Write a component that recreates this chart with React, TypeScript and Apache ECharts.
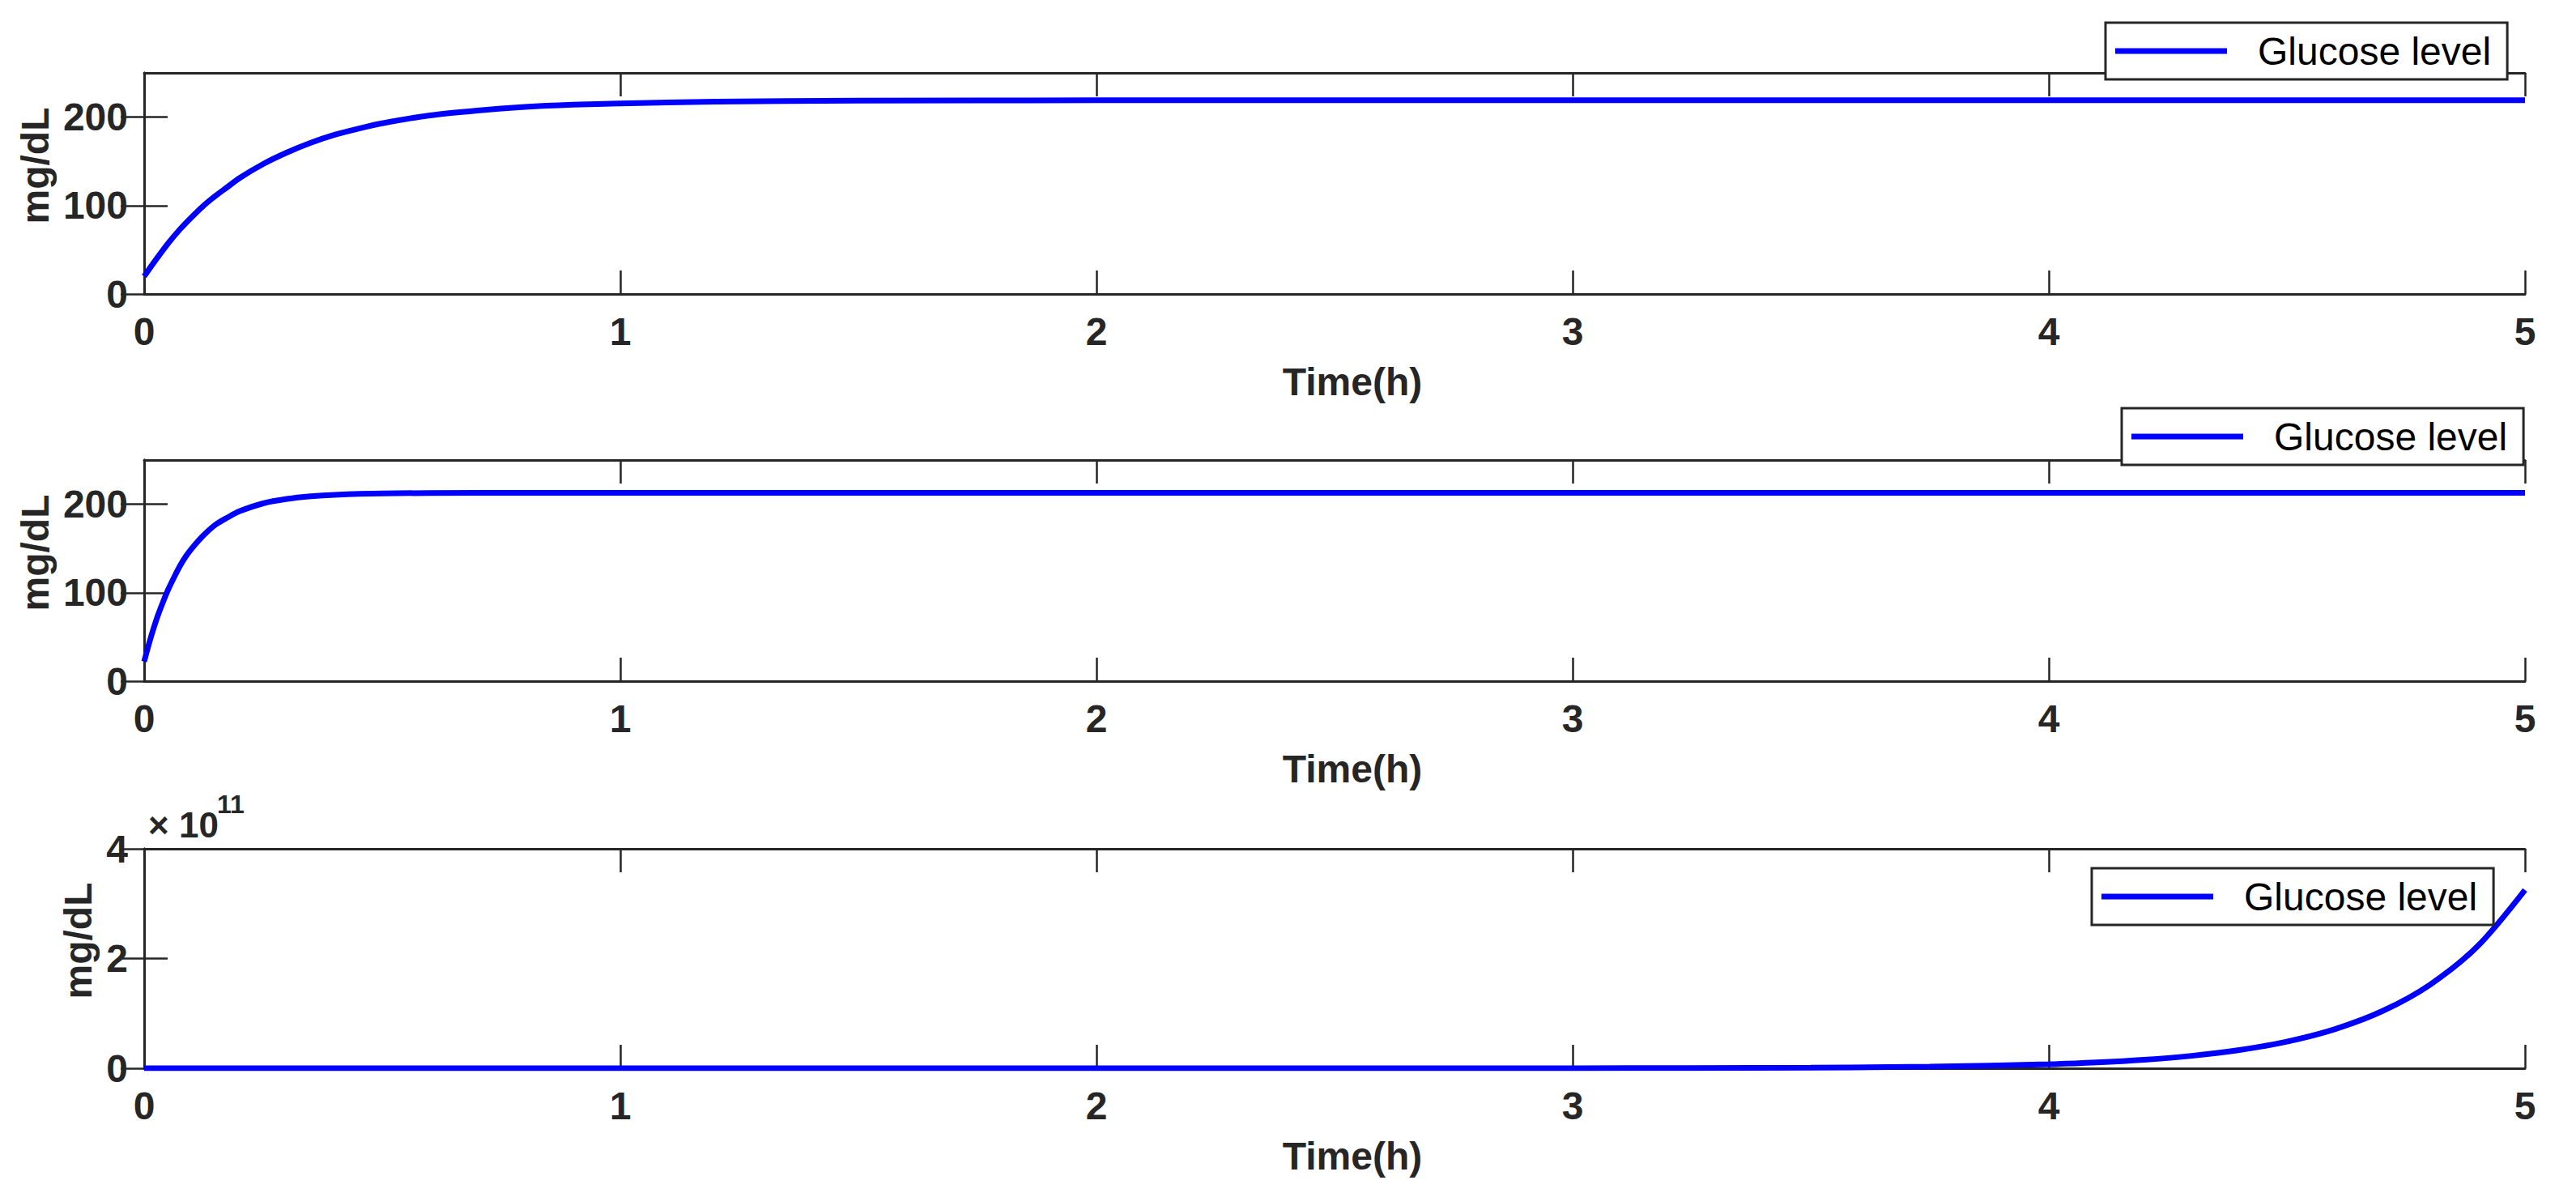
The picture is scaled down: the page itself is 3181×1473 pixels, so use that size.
import React, { useEffect, useRef } from "react";
import * as echarts from "echarts";

// ---------- data ----------
const xTicks = [0, 1, 2, 3, 4, 5];
const yTicksTop = [0, 100, 200];
const yTicksBottom = [0, 2e11, 4e11];
const seriesName = "Glucose level";
const yLabel = "mg/dL";
const xLabel = "Time(h)";
const exponentBase = "× 10";
const exponentPower = "11";

// panel 1
const t1 = [0, 0.025, 0.05, 0.075, 0.1, 0.125, 0.15, 0.175, 0.2, 0.25, 0.3, 0.35, 0.4, 0.45, 0.5, 0.6, 0.7, 0.8, 0.9, 1.0, 1.2, 1.5, 2, 3, 4, 5];
const v1 = [20, 39, 57, 73, 87, 100, 111, 121, 131, 147, 160, 171, 180, 187, 193, 202, 207.5, 211.5, 214, 215.5, 217.5, 218.6, 219, 219, 219, 219];

// panel 2
const t2 = [0, 0.01, 0.02, 0.03, 0.04, 0.05, 0.0625, 0.075, 0.0875, 0.1, 0.125, 0.15, 0.175, 0.2, 0.25, 0.3, 0.35, 0.4, 0.5, 0.7, 1, 2, 3, 4, 5];
const v2 = [22, 42, 60, 76, 90, 103, 117, 130, 141, 150, 165, 177, 185, 192, 201, 206, 209, 210.7, 212.2, 213, 213, 213, 213, 213, 213];

// panel 3
const t3 = [0, 1, 2, 2.5, 3, 3.25, 3.5, 3.75, 4, 4.1, 4.2, 4.3, 4.4, 4.5, 4.6, 4.7, 4.8, 4.9, 5];
const v3 = [20, 8e4, 3.6e6, 2.4e7, 1.6e8, 4.2e8, 1.09e9, 2.8e9, 7.3e9, 1.06e10, 1.55e10, 2.27e10, 3.32e10, 4.86e10, 7.11e10, 1.04e11, 1.52e11, 2.22e11, 3.25e11];

// ---------- style ----------
const AX = "#262626";
const BLUE = "#0000ff";
const FONT = '"Liberation Sans", Arial, Helvetica, sans-serif';
const TICK_FS = 48;
const LABEL_FS = 48;

const grids = [
  { left: 178, top: 90, width: 2940, height: 273 },
  { left: 178, top: 568, width: 2940, height: 273 },
  { left: 178, top: 1048, width: 2940, height: 271 },
];

function makeX(gridIndex: number, position: "bottom" | "top") {
  const main = position === "bottom";
  return {
    type: "value",
    gridIndex,
    position,
    min: xTicks[0],
    max: xTicks[xTicks.length - 1],
    interval: 1,
    axisLine: { show: true, onZero: false, lineStyle: { color: AX, width: 3 } },
    axisTick: { show: true, inside: true, length: 29, lineStyle: { color: AX, width: 2.5 } },
    axisLabel: {
      show: main,
      margin: 22,
      color: AX,
      fontSize: TICK_FS,
      fontWeight: "bold",
      fontFamily: FONT,
    },
    splitLine: { show: false },
    name: main ? xLabel : "",
    nameLocation: "middle",
    nameGap: 84,
    nameTextStyle: {
      color: AX,
      fontSize: LABEL_FS,
      fontWeight: "bold",
      fontFamily: FONT,
      padding: [0, 0, 0, 44],
    },
  };
}

function makeY(gridIndex: number, position: "left" | "right", ticks: number[], max: number, nameGap: number, scale: number) {
  const main = position === "left";
  return {
    type: "value",
    gridIndex,
    position,
    min: 0,
    max,
    axisLine: { show: true, lineStyle: { color: AX, width: 3 } },
    axisTick: { show: true, inside: true, length: 29, customValues: ticks, lineStyle: { color: AX, width: 2.5 } },
    axisLabel: {
      show: main,
      customValues: ticks,
      margin: 20,
      color: AX,
      fontSize: TICK_FS,
      fontWeight: "bold",
      fontFamily: FONT,
      formatter: (v: number) => String(Math.round((v / scale) * 100) / 100),
    },
    splitLine: { show: false },
    name: main ? yLabel : "",
    nameLocation: "middle",
    nameRotate: 90,
    nameGap,
    nameTextStyle: {
      color: AX,
      fontSize: LABEL_FS,
      fontWeight: "bold",
      fontFamily: FONT,
      padding: [0, 0, 0, 44],
    },
  };
}

function makeLegend(left: number, top: number) {
  return {
    data: [seriesName],
    left,
    top,
    orient: "horizontal",
    selectedMode: false,
    padding: [11, 20, 11, 12],
    borderColor: AX,
    borderWidth: 3,
    backgroundColor: "#ffffff",
    icon: "rect",
    itemWidth: 138,
    itemHeight: 7,
    textStyle: { fontSize: 48, color: "#000000", fontFamily: FONT, padding: [0, 0, 0, 33] },
  };
}

function makeSeries(idx: number, ts: number[], vs: number[]) {
  return {
    type: "line",
    name: seriesName,
    xAxisIndex: idx * 2,
    yAxisIndex: idx * 2,
    data: ts.map((t, i) => [t, vs[i]]),
    showSymbol: false,
    smooth: 0.3,
    lineStyle: { color: BLUE, width: 7 },
    itemStyle: { color: BLUE },
    z: 3,
  };
}

export default function App() {
  const ref = useRef<HTMLDivElement>(null);

  useEffect(() => {
    if (!ref.current) return;
    const chart = echarts.init(ref.current, undefined, { renderer: "svg" });
    const option = {
      animation: false,
      backgroundColor: "#ffffff",
      grid: grids,
      xAxis: [makeX(0, "bottom"), makeX(0, "top"), makeX(1, "bottom"), makeX(1, "top"), makeX(2, "bottom"), makeX(2, "top")],
      yAxis: [
        makeY(0, "left", yTicksTop, 250, 110, 1),
        makeY(0, "right", yTicksTop, 250, 110, 1),
        makeY(1, "left", yTicksTop, 250, 110, 1),
        makeY(1, "right", yTicksTop, 250, 110, 1),
        makeY(2, "left", yTicksBottom, 4e11, 54, 1e11),
        makeY(2, "right", yTicksBottom, 4e11, 54, 1e11),
      ],
      legend: [makeLegend(2600, 28), makeLegend(2620, 504), makeLegend(2583, 1072)],
      series: [makeSeries(0, t1, v1), makeSeries(1, t2, v2), makeSeries(2, t3, v3)],
      graphic: [
        {
          type: "text",
          x: 183,
          y: 1018,
          style: {
            text: exponentBase,
            fontSize: 44,
            fontWeight: "bold",
            fontFamily: FONT,
            fill: AX,
            align: "left",
            verticalAlign: "middle",
          },
        },
        {
          type: "text",
          x: 268,
          y: 993,
          style: {
            text: exponentPower,
            fontSize: 32,
            fontWeight: "bold",
            fontFamily: FONT,
            fill: AX,
            align: "left",
            verticalAlign: "middle",
          },
        },
      ],
    };
    chart.setOption(option as any);
    return () => chart.dispose();
  }, []);

  return (
    <div
      ref={ref}
      style={{ position: "absolute", left: 0, top: 0, width: 3181, height: 1473, background: "#fff" }}
    />
  );
}
